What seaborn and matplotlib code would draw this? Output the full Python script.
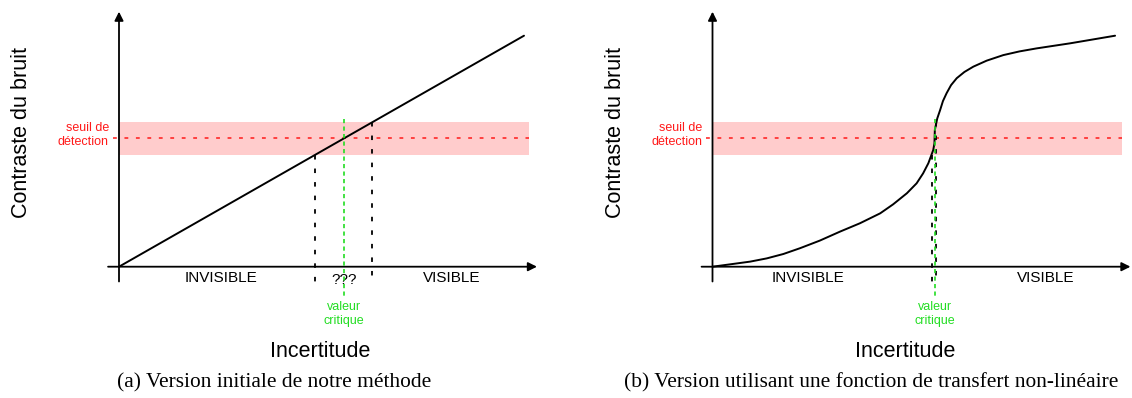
import numpy as np
import matplotlib
matplotlib.use("Agg")
import matplotlib.pyplot as plt
import seaborn as sns

# threshold and band (in "contrast" units, line end = 1)
seuil = 0.555
demi_bande = 0.07

# (a) linear transfer function
lin_x = [0.0, 1.0]
lin_y = [0.0, 1.0]

# (b) non-linear transfer function
nl_x = [0.0, 0.051, 0.093, 0.134, 0.175, 0.216, 0.265, 0.315, 0.364, 0.414,
        0.446, 0.480, 0.504, 0.520, 0.533, 0.545, 0.548, 0.549, 0.555, 0.562,
        0.569, 0.578, 0.589, 0.603, 0.622, 0.644, 0.677, 0.718, 0.758,
        0.800, 0.883, 0.994]
nl_y = [0.0, 0.012, 0.022, 0.036, 0.055, 0.080, 0.113, 0.152, 0.188, 0.231,
        0.270, 0.318, 0.361, 0.404, 0.448, 0.505, 0.534, 0.592, 0.642, 0.678,
        0.717, 0.751, 0.786, 0.816, 0.843, 0.866, 0.892, 0.916, 0.932,
        0.945, 0.967, 1.000]

labels_zone = ["INVISIBLE", "VISIBLE"]
captions = ["(a) Version initiale de notre méthode",
            "(b) Version utilisant une fonction de transfert non-linéaire"]

sns.set_theme(style="white")
plt.rcParams["font.family"] = ["Liberation Sans", "DejaVu Sans"]
plt.rcParams["text.color"] = "black"

W, H = 1132, 398
SX, SY = 405, 231
XLIM = (-0.05, 1.06)
YLIM = (-0.15, 1.14)

PINK = "#ffcccc"
RED = "#ff1a1a"
GREEN = "#22dd22"

fig = plt.figure(figsize=(W / 100, H / 100), dpi=100)


def make_axes(ox, oy):
    left = ox + XLIM[0] * SX
    bottom = H - (oy - YLIM[0] * SY)
    ax = fig.add_axes([left / W, bottom / H,
                       (XLIM[1] - XLIM[0]) * SX / W,
                       (YLIM[1] - YLIM[0]) * SY / H])
    ax.set_xlim(XLIM)
    ax.set_ylim(YLIM)
    ax.axis("off")
    return ax


def draw_panel(ax, xs, ys, band_end, zone_x, inc_x, cap_x, caption, show_q):
    lo, hi = seuil - demi_bande, seuil + demi_bande

    # band + threshold
    ax.fill_between([0, band_end], lo, hi, color=PINK, lw=0, zorder=1)
    ax.plot([-0.015, band_end], [seuil, seuil], color=RED, lw=1.1,
            dashes=(2.5, 5), zorder=2)

    # axes with arrows
    ax.annotate("", xy=(1.032, 0), xytext=(-0.027, 0),
                arrowprops=dict(arrowstyle="-|>", color="black", lw=1.3,
                                mutation_scale=13, shrinkA=0, shrinkB=0),
                zorder=3)
    ax.annotate("", xy=(0, 1.104), xytext=(0, -0.064),
                arrowprops=dict(arrowstyle="-|>", color="black", lw=1.3,
                                mutation_scale=13, shrinkA=0, shrinkB=0),
                zorder=3)

    # transfer curve
    sns.lineplot(x=xs, y=ys, ax=ax, color="black", lw=1.4,
                 estimator=None, zorder=4)

    # band crossings and critical value
    x_lo = np.interp(lo, ys, xs)
    x_hi = np.interp(hi, ys, xs)
    x_c = np.interp(seuil, ys, xs)
    for xv, yv in [(x_lo, lo), (x_hi, hi)]:
        ax.plot([xv, xv], [yv, -0.069], color="black", lw=1.3,
                dashes=(2.5, 5), zorder=3)
    ax.plot([x_c, x_c], [0.64, -0.13], color=GREEN, lw=1.2,
            dashes=(2.5, 2), zorder=5)

    # texts
    ax.text(-0.025, seuil + 0.015, "seuil de\ndétection", color=RED,
            fontsize=9, ha="right", va="center", linespacing=1.25)
    ax.text(x_c, -0.205, "valeur\ncritique", color=GREEN, fontsize=9,
            ha="center", va="center", linespacing=1.25)
    ax.text(zone_x[0], -0.05, labels_zone[0], fontsize=11,
            ha="center", va="center")
    ax.text(zone_x[1], -0.05, labels_zone[1], fontsize=11,
            ha="center", va="center")
    if show_q:
        ax.text(x_c, -0.058, "???", fontsize=11, ha="center", va="center")
    ax.text(-0.24, 0.581, "Contraste du bruit", fontsize=15.5,
            rotation=90, ha="center", va="center")
    ax.text(inc_x, -0.368, "Incertitude", fontsize=15.5,
            ha="center", va="center")
    ax.text(cap_x, -0.503, caption, fontsize=15.4, ha="center",
            va="center", family=["Liberation Serif", "DejaVu Serif"])


ax_a = make_axes(119, 266.7)
draw_panel(ax_a, lin_x, lin_y, 1.012, (0.252, 0.822), 0.496, 0.384,
           captions[0], True)

ax_b = make_axes(712.5, 266.7)
draw_panel(ax_b, nl_x, nl_y, 1.011, (0.236, 0.822), 0.477, 0.391,
           captions[1], False)

fig.savefig("out.png", dpi=100)
